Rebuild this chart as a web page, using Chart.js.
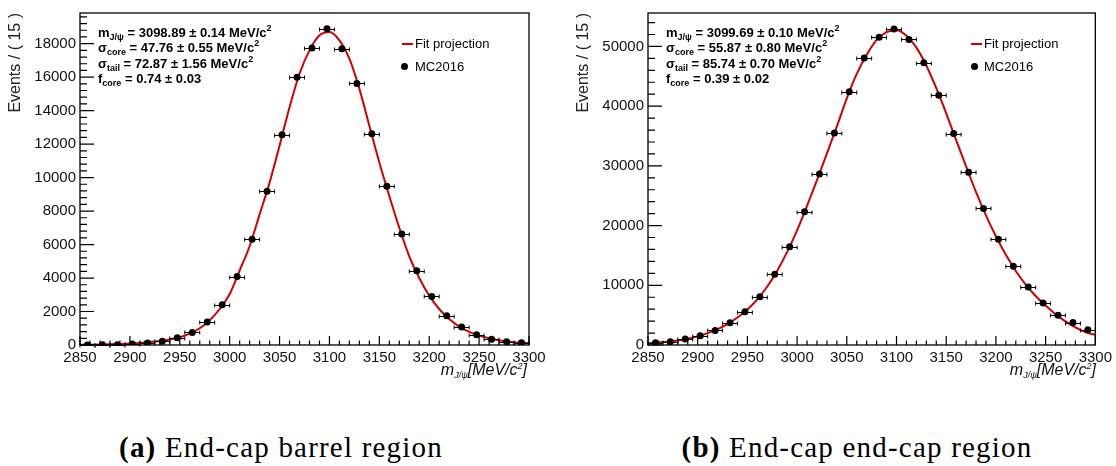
<!DOCTYPE html>
<html>
<head>
<meta charset="utf-8">
<script src="https://cdn.jsdelivr.net/npm/chart.js@4.4.1/dist/chart.umd.min.js"></script>
<style>
  body { margin: 0; background: #fff; width: 1116px; height: 466px; overflow: hidden; position: relative;
         font-family: "Liberation Sans", Arial, sans-serif; color: #000; }
  canvas { position: absolute; top: 0; }
  .stats { position: absolute; top: 25px; font-weight: bold; font-size: 13px; line-height: 15.3px; white-space: nowrap; }
  .stats div { height: 15.3px; }
  sub { font-size: 9px; line-height: 0; vertical-align: baseline; position: relative; top: 3px; }
  sup { font-size: 9px; line-height: 0; vertical-align: baseline; position: relative; top: -6px; }
  .leg { position: absolute; font-size: 13px; line-height: 15px; white-space: nowrap; }
  .legline { position: absolute; height: 2px; width: 11px; background: #d40000; }
  .legdot { position: absolute; width: 7px; height: 7px; border-radius: 50%; background: #000; }
  .xtitle { position: absolute; top: 361px; font-style: italic; font-size: 16px; line-height: 18px; white-space: nowrap; color: #111; }
  .caption { position: absolute; top: 431px; width: 560px; text-align: center; font-family: "Liberation Serif", serif;
             font-size: 29px; letter-spacing: 1.2px; white-space: nowrap; }
</style>
</head>
<body>
<canvas id="barrel" width="560" height="400" style="left:0px"></canvas>
<canvas id="endcap" width="548" height="400" style="left:568px"></canvas>

<div class="stats" style="left:98px">
  <div>m<sub>J/ψ</sub> = 3098.89 ± 0.14 MeV/c<sup>2</sup></div>
  <div>σ<sub>core</sub> = 47.76 ± 0.55 MeV/c<sup>2</sup></div>
  <div>σ<sub>tail</sub> = 72.87 ± 1.56 MeV/c<sup>2</sup></div>
  <div>f<sub>core</sub> = 0.74 ± 0.03</div>
</div>
<div class="stats" style="left:666px">
  <div>m<sub>J/ψ</sub> = 3099.69 ± 0.10 MeV/c<sup>2</sup></div>
  <div>σ<sub>core</sub> = 55.87 ± 0.80 MeV/c<sup>2</sup></div>
  <div>σ<sub>tail</sub> = 85.74 ± 0.70 MeV/c<sup>2</sup></div>
  <div>f<sub>core</sub> = 0.39 ± 0.02</div>
</div>

<div class="legline" style="left:402px;top:43px"></div>
<div class="leg" style="left:415px;top:36px">Fit projection</div>
<div class="legdot" style="left:401px;top:63px"></div>
<div class="leg" style="left:415px;top:59px">MC2016</div>

<div class="legline" style="left:971px;top:43px"></div>
<div class="leg" style="left:984px;top:36px">Fit projection</div>
<div class="legdot" style="left:971px;top:63px"></div>
<div class="leg" style="left:984px;top:59px">MC2016</div>

<div class="xtitle" style="right:589px">m<sub>J/ψ</sub>[MeV/c<sup>2</sup>]</div>
<div class="xtitle" style="right:20px">m<sub>J/ψ</sub>[MeV/c<sup>2</sup>]</div>

<div class="caption" style="left:1px"><b>(a)</b> End-cap barrel region</div>
<div class="caption" style="left:577px"><b>(b)</b> End-cap end-cap region</div>

<script>
// bin centres, 15 MeV wide bins from 2850 to 3300
const massBins = [2857.5, 2872.5, 2887.5, 2902.5, 2917.5, 2932.5, 2947.5, 2962.5, 2977.5, 2992.5,
  3007.5, 3022.5, 3037.5, 3052.5, 3067.5, 3082.5, 3097.5, 3112.5, 3127.5, 3142.5,
  3157.5, 3172.5, 3187.5, 3202.5, 3217.5, 3232.5, 3247.5, 3262.5, 3277.5, 3292.5];
const binHalfWidth = 7.5;

const barrelEvents = [5, 10, 20, 60, 120, 220, 440, 750, 1370, 2400,
  4090, 6310, 9190, 12560, 15990, 17740, 18890, 17700, 15620, 12620,
  9480, 6630, 4430, 2900, 1750, 1070, 615, 340, 200, 140];
const endcapEvents = [360, 560, 1000, 1570, 2430, 3720, 5570, 8090, 11840, 16440,
  22300, 28630, 35520, 42400, 48060, 51550, 52940, 51170, 47280, 41840,
  35400, 28910, 22880, 17720, 13180, 9720, 7050, 4980, 3760, 2550];

// fit projection every 10 MeV
const fitMass = [2850, 2860, 2870, 2880, 2890, 2900, 2910, 2920, 2930, 2940,
  2950, 2960, 2970, 2980, 2990, 3000, 3010, 3020, 3030, 3040,
  3050, 3060, 3070, 3080, 3090, 3100, 3110, 3120, 3130, 3140,
  3150, 3160, 3170, 3180, 3190, 3200, 3210, 3220, 3230, 3240,
  3250, 3260, 3270, 3280, 3290, 3300];
const barrelFit = [10, 15, 25, 40, 60, 90, 125, 175, 240, 330,
  460, 680, 1000, 1480, 2150, 3050, 4450, 5900, 7800, 9700,
  11900, 14200, 16200, 17600, 18500, 18700, 18200, 17100, 15300, 13100,
  10900, 8900, 7000, 5300, 4000, 2950, 2150, 1550, 1100, 780,
  560, 400, 285, 200, 140, 100];
const endcapFit = [300, 420, 560, 760, 1050, 1450, 1980, 2650, 3500, 4600,
  5950, 7650, 9800, 12450, 15600, 19200, 23300, 27600, 32100, 36600,
  41300, 45400, 48600, 51100, 52400, 52700, 51800, 49800, 46800, 43000,
  38800, 34300, 29900, 25600, 21700, 18200, 15100, 12400, 10100, 8200,
  6600, 5150, 3950, 2950, 2150, 1700];

const massRange = [2850, 3300];
const barrelYMax = 19830;
const endcapYMax = 55600;

Chart.defaults.font.family = '"Liberation Sans", Arial, sans-serif';
Chart.defaults.color = '#111';

// ROOT-like frame, inward ticks and horizontal bin-width error bars
const rootAxes = {
  id: 'rootAxes',
  afterDatasetDraw(chart, args) {
    if (args.index !== 1) return;
    const { ctx, scales: { x, y } } = chart;
    ctx.save();
    ctx.strokeStyle = '#000';
    ctx.lineWidth = 1;
    ctx.beginPath();
    chart.data.datasets[0].data.forEach(p => {
      const x0 = x.getPixelForValue(p.x - binHalfWidth);
      const x1 = x.getPixelForValue(p.x + binHalfWidth);
      const py = Math.round(y.getPixelForValue(p.y)) + 0.5;
      ctx.moveTo(x0, py); ctx.lineTo(x1, py);
      ctx.moveTo(x0, py - 2); ctx.lineTo(x0, py + 2);
      ctx.moveTo(x1, py - 2); ctx.lineTo(x1, py + 2);
    });
    ctx.stroke();
    ctx.restore();
  },
  afterDraw(chart, args, opts) {
    const { ctx, chartArea: a, scales: { x, y } } = chart;
    ctx.save();
    ctx.strokeStyle = '#000';
    ctx.lineWidth = 1.3;
    ctx.strokeRect(a.left, a.top, a.right - a.left, a.bottom - a.top);
    ctx.lineWidth = 1.2;
    ctx.beginPath();
    for (let v = x.min; v <= x.max; v += 10) {
      const px = x.getPixelForValue(v);
      const len = (v - x.min) % 50 === 0 ? 9 : 4.5;
      ctx.moveTo(px, a.bottom); ctx.lineTo(px, a.bottom - len);
    }
    for (let v = 0; v <= y.max; v += opts.yMinor) {
      const py = y.getPixelForValue(v);
      const len = v % opts.yMajor === 0 ? 14 : 7;
      ctx.moveTo(a.left, py); ctx.lineTo(a.left + len, py);
    }
    ctx.stroke();
    ctx.restore();
  }
};

function makeChart(id, events, fit, yMax, yStep, yMinor, padRight) {
  const yLabels = [];
  for (let v = 0; v <= yMax; v += yStep) yLabels.push(v);
  return new Chart(document.getElementById(id), {
    type: 'scatter',
    data: {
      datasets: [{
        label: 'MC2016',
        data: massBins.map((m, i) => ({ x: m, y: events[i] })),
        pointRadius: 3.5,
        pointBackgroundColor: '#000',
        pointBorderWidth: 0,
        order: 0
      }, {
        label: 'Fit projection',
        data: fitMass.map((m, i) => ({ x: m, y: fit[i] })),
        showLine: true,
        borderColor: '#d40000',
        borderWidth: 2,
        pointRadius: 0,
        cubicInterpolationMode: 'monotone',
        order: 1
      }]
    },
    options: {
      responsive: false,
      animation: false,
      layout: { padding: { top: 10, right: padRight, left: 0, bottom: 0 } },
      plugins: {
        legend: { display: false },
        tooltip: { enabled: false },
        rootAxes: { yMajor: yStep, yMinor: yMinor }
      },
      scales: {
        x: {
          type: 'linear',
          min: massRange[0],
          max: massRange[1],
          ticks: { stepSize: 50, padding: 4, font: { size: 15 }, maxRotation: 0, autoSkip: false,
                   callback: v => String(v) },
          grid: { display: false, drawTicks: false },
          border: { display: false },
          afterFit(s) { s.height = 55; }
        },
        y: {
          type: 'linear',
          min: 0,
          max: yMax,
          ticks: { padding: 4, font: { size: 15 }, autoSkip: false, callback: v => String(v) },
          afterBuildTicks(s) { s.ticks = yLabels.map(v => ({ value: v })); },
          grid: { display: false, drawTicks: false },
          border: { display: false },
          title: { display: true, text: 'Events / ( 15 )', align: 'end', color: '#222',
                   font: { size: 16 }, padding: { top: 6, bottom: 0 } },
          afterFit(s) { s.width = 80; }
        }
      }
    },
    plugins: [rootAxes]
  });
}

makeChart('barrel', barrelEvents, barrelFit, barrelYMax, 2000, 400, 31);
makeChart('endcap', endcapEvents, endcapFit, endcapYMax, 10000, 2000, 18);
</script>
</body>
</html>
